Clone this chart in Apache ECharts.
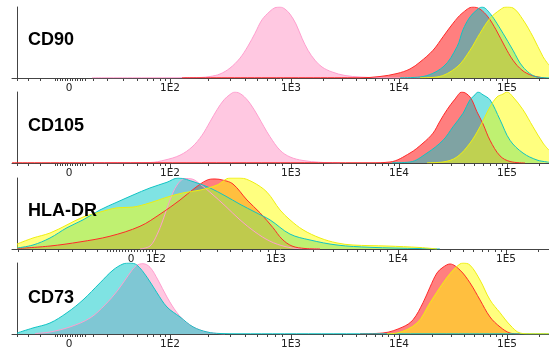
<!DOCTYPE html>
<html>
<head>
<meta charset="utf-8">
<script src="https://cdn.jsdelivr.net/npm/echarts@6/dist/echarts.min.js"></script>
<style>
  html, body { margin: 0; padding: 0; background: #fff; }
  #chart { width: 549px; height: 356px; }
</style>
</head>
<body>
<div id="chart"></div>
<script>
// x values are display channels of the biexponential scale, y values are % of mode
const markers = ['CD90', 'CD105', 'HLA-DR', 'CD73'];
const tickLabels = ['0', '1E2', '1E3', '1E4', '1E5'];

const stdLabelPos = [57, 158, 279, 387, 495];
const stdMajor = [158, 279, 387, 495];
const stdMinor = [5, 16, 28, 43, 45.5, 48, 50.5, 53, 55.5, 58, 60.5, 63, 65.5, 68, 70.5, 73,
  81, 95, 111, 125, 135, 141, 148, 153, 196, 218, 233, 245, 255, 263, 270,
  311, 330, 344, 354, 363, 370, 376, 382, 420, 439, 452, 462, 471, 478, 484, 490, 527];

const hlaLabelPos = [119, 144, 264, 386, 494];
const hlaMajor = [143, 263, 386, 494];
const hlaMinor = [6, 20, 33, 46, 60, 73, 85, 95, 98, 101, 104, 107, 110, 113, 116, 119, 122,
  125, 128, 131, 134, 137, 140, 168, 188, 205, 218, 230, 240, 248, 256,
  301, 321, 335, 345, 353, 361, 368, 375, 418, 438, 451, 461, 470, 476, 483, 489, 526];

// CD90
const cd90Pink = [[80,0.3],[138,0.3],[188,0.7],[198,2.1],[208,5.6],[218,14],[228,28],[236,45],
  [243,63],[250,82],[258,94],[263,99],[268,100],[273,97],[278,90],[284,76],[290,56],[296,39],
  [303,25],[310,15.5],[320,8.5],[333,3.5],[348,1.4],[368,0.3],[408,0]];
const cd90Red = [[170,0.3],[348,0.3],[368,2.1],[385,6.3],[398,12.7],[408,22.5],[421,39],[431,58],
  [441,77],[450,91],[461,100],[468,97],[476,86],[484,68],[493,44],[501,25],[510,11],[520,3.5],[533,0]];
const cd90Cyan = [[388,0.3],[408,1.4],[431,15.5],[445,44],[451,68],[458,86],[465,96],[470,100],
  [478,91],[491,63],[501,39],[511,15.5],[525,1.4],[537,0.3]];
const cd90Yellow = [[408,0.3],[425,1.4],[445,15.5],[458,39],[468,63],[478,84],[488,96],[494,100],
  [501,98.6],[511,82],[521,58],[531,30],[537,18]];

// CD105
const cd105Pink = [[78,0.3],[138,0.7],[153,4.2],[168,11],[180,22.5],[190,39],[198,58],[205,75],
  [212,89],[218,96.5],[223,100],[230,96],[238,84],[246,66],[252,51],[258,37],[268,18],[278,8.5],
  [291,3.5],[308,1],[328,0]];
const cd105Red = [[0,0.3],[358,0.3],[378,1.4],[398,14],[411,28],[421,42],[428,59],[435,75],
  [443,90],[450,100],[458,93],[465,72],[471,55],[478,32],[488,10],[498,2.1],[513,0]];
const cd105Cyan = [[380,0.3],[398,1.4],[415,14],[431,32],[441,51],[451,70],[458,89],[463,96],
  [466,100],[471,96],[478,89],[488,61],[498,32],[511,14],[525,4.2],[535,1.4],[537,1]];
const cd105Yellow = [[415,0.3],[431,1.4],[445,8.5],[458,28],[468,51],[478,79],[485,93],[491,97],
  [495,100],[501,93],[511,75],[521,51],[531,28],[537,18]];

// HLA-DR
const hlaPink = [[128,0],[138,4.2],[145,20],[151,41],[158,69],[165,90],[173,99.3],[180,98.6],
  [188,91.5],[200,77.5],[213,61],[228,41],[243,24],[258,11],[273,3.5],[288,0.4],[308,0]];
const hlaRed = [[5,0.7],[38,4.2],[68,10],[98,18],[128,32],[148,49],[168,69],[183,86],[195,97],
  [203,98.6],[211,97],[221,91.5],[235,69],[248,51],[261,30],[270,14],[280,4.2],[293,0.7],[308,0]];
const hlaCyan = [[5,1.4],[21,5.6],[38,15.5],[55,30],[71,41],[88,55],[105,66],[121,76],[138,86],
  [155,94],[166,100],[183,94],[198,86],[213,75],[228,63],[243,52],[258,41],[278,21],[298,12.7],
  [325,5.6],[358,2.4],[408,0.6],[428,0]];
const hlaYellow = [[5,7],[21,15.5],[38,22.5],[55,34],[71,45],[88,52],[105,58],[121,59],[138,65],
  [155,73],[171,79],[188,83],[205,90],[218,100],[228,100],[241,94],[255,80],[268,55],[278,41],
  [291,27],[308,15.5],[325,8.5],[341,5.6],[375,4.2],[408,2.1],[425,0]];

// CD73
const cd73Pink = [[23,0.7],[38,2.8],[58,10],[78,22.5],[93,41],[106,62],[116,82],[124,96],
  [131,99],[138,94],[146,76],[155,52],[165,30],[175,15.5],[188,5.6],[201,1.4],[213,0]];
const cd73Cyan = [[5,1.4],[21,8.5],[38,15.5],[55,30],[71,48],[88,72],[101,90],[111,98.6],[118,100],
  [125,97],[135,80],[145,58],[155,38],[168,24],[181,10],[195,2.8],[208,0.7],[228,0.3],[537,0.3]];
const cd73Red = [[348,0.3],[371,1.4],[391,10],[401,20],[411,44],[418,66],[425,86],[431,94],
  [438,98.6],[448,90],[458,72],[468,48],[478,24],[488,10],[498,1.4],[508,0]];
const cd73Yellow = [[375,0.3],[385,1.4],[405,15.5],[418,44],[431,72],[441,90],[448,98.6],[451,100],
  [458,97],[468,76],[478,48],[488,30],[498,12.7],[508,1.4],[518,0.3],[537,0.3]];

const panelData = [
  [cd90Pink, cd90Red, cd90Cyan, cd90Yellow],
  [cd105Pink, cd105Red, cd105Cyan, cd105Yellow],
  [hlaPink, hlaRed, hlaCyan, hlaYellow],
  [cd73Pink, cd73Red, cd73Cyan, cd73Yellow]
];

const fills = ['rgb(255,145,195)', 'rgb(255,0,0)', 'rgb(0,200,200)', 'rgb(255,255,0)'];
const edges = ['#ff9fcf', '#ff2a2a', '#10c4c4', '#eeee10'];

const tops = [7, 92, 178, 263];
const panelH = 71;
const titleTops = [31, 117, 202, 289];

const chart = echarts.init(document.getElementById('chart'));

const grid = [], xAxis = [], yAxis = [], series = [], title = [];

tops.forEach((t, i) => {
  grid.push({ left: 12, right: 0, top: t, height: panelH });
  const isHla = i === 2;
  const labelPos = isHla ? hlaLabelPos : stdLabelPos;
  const major = isHla ? hlaMajor : stdMajor;
  const minor = isHla ? hlaMinor : stdMinor;

  xAxis.push({
    type: 'value', gridIndex: i, min: 0, max: 537, position: 'bottom',
    axisLine: { show: true, lineStyle: { color: '#444', width: 1 } },
    axisTick: { show: true, length: 5, customValues: major, lineStyle: { color: '#444' } },
    axisLabel: {
      show: true, customValues: labelPos, margin: 5,
      fontFamily: 'DejaVu Sans', fontSize: 10.5, color: '#222',
      formatter: v => tickLabels[labelPos.indexOf(v)]
    },
    splitLine: { show: false }
  });
  xAxis.push({
    type: 'value', gridIndex: i, min: 0, max: 537, position: 'bottom',
    axisLine: { show: false },
    axisTick: { show: true, length: 3, customValues: minor, lineStyle: { color: '#444' } },
    axisLabel: { show: false },
    splitLine: { show: false }
  });
  yAxis.push({
    type: 'value', gridIndex: i, min: 0, max: 100, offset: -5,
    axisLine: { show: true, lineStyle: { color: '#444', width: 1 } },
    axisTick: { show: false }, axisLabel: { show: false }, splitLine: { show: false }
  });

  panelData[i].forEach((d, k) => {
    series.push({
      type: 'line', xAxisIndex: i * 2, yAxisIndex: i,
      data: d, smooth: 0.35, symbol: 'none', silent: true,
      lineStyle: { color: edges[k], width: 1 },
      areaStyle: { color: fills[k], opacity: 0.5 }
    });
  });

  title.push({
    text: markers[i], left: 28, top: titleTops[i], padding: 0,
    textStyle: { fontFamily: 'Liberation Sans', fontWeight: 'bold', fontSize: 18, color: '#000' }
  });
});

chart.setOption({ animation: false, title, grid, xAxis, yAxis, series });
</script>
</body>
</html>
